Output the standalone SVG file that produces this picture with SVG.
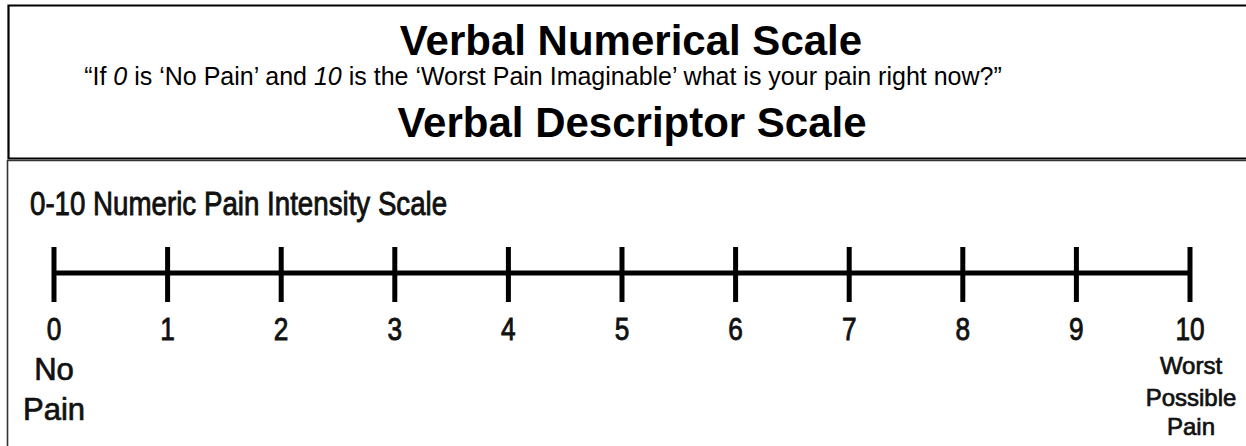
<svg xmlns="http://www.w3.org/2000/svg" width="1246" height="446" viewBox="0 0 1246 446">
<style>
.title{font-family:"Liberation Sans",Arial,sans-serif;font-weight:bold;font-size:42px;fill:#000;text-anchor:middle}
.sub{font-family:"Liberation Sans",Arial,sans-serif;font-size:25px;fill:#000;text-anchor:middle}
.cond{font-family:"Liberation Sans",Arial,sans-serif;fill:#111;stroke:#111;stroke-width:0.9}
.num{font-size:32px;text-anchor:middle}
.lbl{font-family:"Liberation Sans",Arial,sans-serif;fill:#111;stroke:#111;stroke-width:0.7;text-anchor:middle}
.tick{stroke:#000;stroke-width:5}
</style>
<rect width="1246" height="446" fill="#fff"/>
<g id="header">
<path d="M1250 5.5 H8.5 V158.5 H1250" fill="none" stroke="#000" stroke-width="2.2"/>
<text class="title" x="631" y="55">Verbal Numerical Scale</text>
<text class="sub" x="543" y="85">“If <tspan font-style="italic">0</tspan> is ‘No Pain’ and <tspan font-style="italic">10</tspan> is the ‘Worst Pain Imaginable’ what is your pain right now?”</text>
<text class="title" x="632" y="137">Verbal Descriptor Scale</text>
</g>
<g id="scale-panel">
<path d="M1250 160.5 H7.5 V450" fill="none" stroke="#333" stroke-width="1.6"/>
<g transform="scale(0.815,1)">
<text class="cond" x="36.8" y="215" font-size="34">0-10 Numeric Pain Intensity Scale</text>
</g>
</g>
<g id="connectors">
<line class="tick" x1="52" y1="273" x2="1192" y2="273"/>
<line class="tick" x1="54" y1="247" x2="54" y2="302"/>
<line class="tick" x1="167.6" y1="247" x2="167.6" y2="302"/>
<line class="tick" x1="281.2" y1="247" x2="281.2" y2="302"/>
<line class="tick" x1="394.8" y1="247" x2="394.8" y2="302"/>
<line class="tick" x1="508.4" y1="247" x2="508.4" y2="302"/>
<line class="tick" x1="622" y1="247" x2="622" y2="302"/>
<line class="tick" x1="735.6" y1="247" x2="735.6" y2="302"/>
<line class="tick" x1="849.2" y1="247" x2="849.2" y2="302"/>
<line class="tick" x1="962.8" y1="247" x2="962.8" y2="302"/>
<line class="tick" x1="1076.4" y1="247" x2="1076.4" y2="302"/>
<line class="tick" x1="1190" y1="247" x2="1190" y2="302"/>
</g>
<g id="numbers" transform="scale(0.82,1)">
<text class="cond num" x="65.9" y="340">0</text>
<text class="cond num" x="204.4" y="340">1</text>
<text class="cond num" x="342.9" y="340">2</text>
<text class="cond num" x="481.5" y="340">3</text>
<text class="cond num" x="620" y="340">4</text>
<text class="cond num" x="758.5" y="340">5</text>
<text class="cond num" x="897.1" y="340">6</text>
<text class="cond num" x="1035.6" y="340">7</text>
<text class="cond num" x="1174.1" y="340">8</text>
<text class="cond num" x="1312.7" y="340">9</text>
<text class="cond num" x="1451.2" y="340">10</text>
</g>
<g id="label-no-pain">
<text class="lbl" x="54" y="380" font-size="31">No</text>
<text class="lbl" x="54" y="420" font-size="31">Pain</text>
</g>
<g id="label-worst">
<text class="lbl" x="1191" y="374" font-size="24">Worst</text>
<text class="lbl" x="1191" y="406" font-size="24">Possible</text>
<text class="lbl" x="1191" y="435" font-size="24">Pain</text>
</g>
</svg>
